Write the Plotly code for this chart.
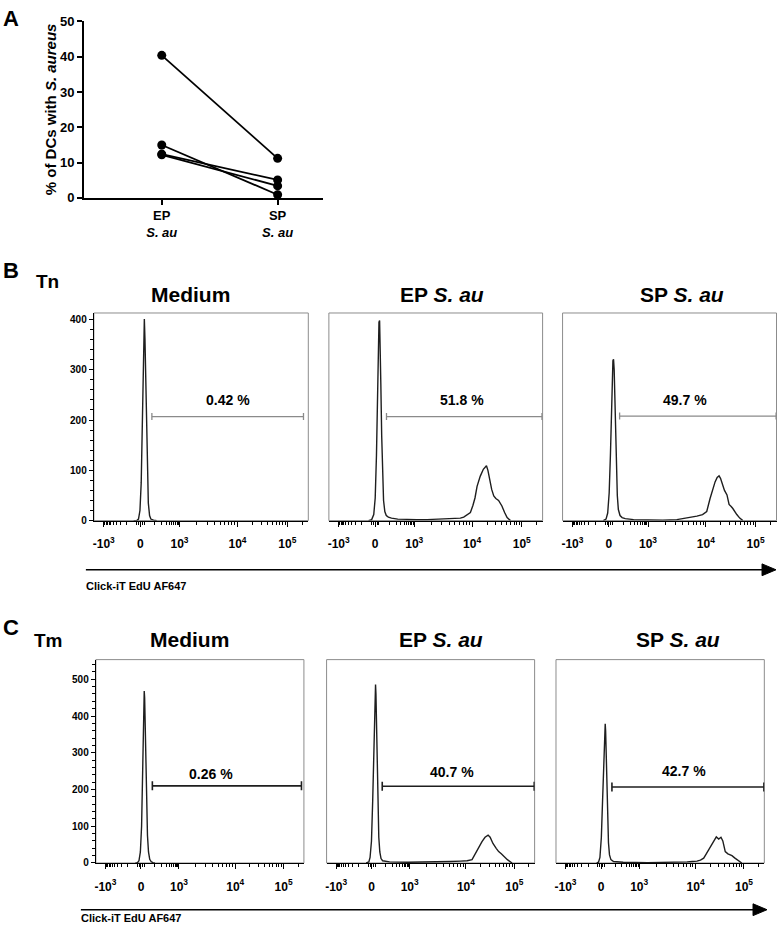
import math
import plotly.graph_objects as go

W, H = 777, 931
FONT = "Liberation Sans, Arial, Helvetica, sans-serif"

# ---- panel A: % of DCs with S. aureus (paired samples)
groups = ["EP", "SP"]
group_labels = ["EP<br><i>S. au</i>", "SP<br><i>S. au</i>"]
ep_pct = [40.4, 15.0, 12.4, 12.2]
sp_pct = [11.2, 0.9, 5.1, 3.4]

# ---- histograms, x in display channels (0-1024), y = count
tn_med_x = [190, 205, 213, 220, 226, 231, 235, 238, 241, 244, 247, 251, 255, 260, 266, 272, 285, 300]
tn_med_y = [0, 0, 3, 20, 75, 170, 270, 350, 401, 360, 290, 180, 95, 35, 10, 3, 1, 0]

tn_ep_x = [190, 205, 215, 222, 228, 233, 237, 240, 243, 246, 249, 253, 257, 262, 268, 275, 285, 300, 330,
           380, 420, 470, 520, 566, 600, 630, 646, 665, 678, 690, 700, 710, 725, 740, 750, 755, 762, 770,
           780, 790, 800, 813, 829, 842, 854, 870]
tn_ep_y = [0, 2, 12, 45, 130, 250, 350, 395, 398, 350, 270, 170, 90, 40, 18, 10, 7, 5, 3,
           2, 2, 2, 3, 3, 4, 5, 7, 12, 16, 30, 45, 68, 88, 102, 108, 109, 100, 80,
           62, 49, 44, 40, 29, 16, 6, 0]

tn_sp_x = [195, 208, 216, 223, 229, 234, 238, 241, 244, 247, 250, 254, 258, 262, 267, 275, 285, 300, 340,
           400, 480, 547, 579, 610, 643, 670, 690, 706, 718, 730, 740, 749, 756, 765, 775, 787, 797, 807,
           815, 834, 848, 863]
tn_sp_y = [0, 3, 15, 55, 130, 210, 290, 318, 321, 300, 250, 170, 100, 50, 22, 10, 6, 4, 2,
           1, 1, 2, 4, 6, 9, 12, 18, 44, 62, 77, 86, 89, 84, 72, 60, 51, 32, 28,
           24, 12, 5, 0]

tm_med_x = [195, 205, 212, 219, 225, 230, 234, 236, 238, 240, 243, 246, 250, 254, 259, 265, 272, 280, 290]
tm_med_y = [0, 1, 6, 30, 100, 220, 350, 430, 468, 450, 370, 260, 150, 75, 30, 10, 4, 1, 0]

tm_ep_x = [195, 208, 214, 221, 227, 232, 236, 239, 241, 243, 246, 249, 253, 257, 262, 268, 276, 290, 310,
           400, 500, 610, 660, 692, 716, 741, 765, 780, 795, 805, 819, 835, 847, 860, 872, 890, 913]
tm_ep_y = [0, 3, 15, 60, 170, 320, 440, 480, 486, 460, 370, 250, 140, 70, 30, 12, 6, 4, 3,
           2, 2, 4, 5, 6, 9, 36, 58, 70, 76, 70, 53, 40, 31, 25, 18, 9, 0]

tm_sp_x = [200, 209, 216, 223, 229, 234, 238, 240, 242, 244, 247, 250, 254, 258, 263, 270, 283, 300, 330,
           450, 560, 620, 645, 670, 693, 710, 726, 738, 750, 765, 778, 788, 800, 811, 820, 832, 845, 865,
           878, 890, 913]
tm_sp_y = [0, 2, 15, 70, 170, 280, 350, 372, 379, 360, 290, 200, 110, 55, 22, 9, 4, 3, 2,
           1, 1, 2, 3, 4, 5, 8, 13, 24, 36, 52, 64, 71, 65, 70, 60, 31, 25, 20,
           14, 9, 0]

hist_x = [tn_med_x, tn_ep_x, tn_sp_x, tm_med_x, tm_ep_x, tm_sp_x]
hist_y = [tn_med_y, tn_ep_y, tn_sp_y, tm_med_y, tm_ep_y, tm_sp_y]

# gates
gate_labels = ["0.42 %", "51.8 %", "49.7 %", "0.26 %", "40.7 %", "42.7 %"]
gate_x0 = [277, 276, 273, 278, 274, 275]
gate_x1 = [1001, 1021, 1022, 1012, 1022, 1022]
gate_y = [207, 207, 208, 210, 209, 207]
label_x = [639, 636, 584, 569, 615, 630]
label_y = [239, 239, 239, 241, 248, 250]

col_titles = ["Medium", "EP <i>S. au</i>", "SP <i>S. au</i>"]
x_tick_text = ["-10<sup>3</sup>", "0", "10<sup>3</sup>", "10<sup>4</sup>", "10<sup>5</sup>"]
x_tick_vals = [-1000, 0, 1000, 10000, 100000]
x_minor_vals = ([-v for v in range(100, 1000, 100)] + [-20, -10, 10, 20] + list(range(100, 1000, 100))
                + list(range(2000, 10000, 1000)) + list(range(20000, 100000, 10000)) + [200000])


def chan(v):
    # biexponential-like display scale used by the cytometry axes
    if v >= 1000:
        d = math.log10(v)
        return 409 + 277 * (d - 3) if d < 4 else 686 + 238 * (d - 4)
    s = math.asinh(abs(v) / 60) / math.asinh(1000 / 60)
    return 222 + 187 * s if v >= 0 else 222 - 175 * s


def px(x):
    return x / W


def py(y):
    return 1 - y / H


fig = go.Figure()

# panel A
for a, b in zip(ep_pct, sp_pct):
    fig.add_trace(go.Scatter(x=groups, y=[a, b], mode="lines+markers", xaxis="x", yaxis="y",
                             line=dict(color="black", width=1.8), marker=dict(color="black", size=9),
                             cliponaxis=False, showlegend=False, hoverinfo="skip"))

layout = dict(
    width=W, height=H, margin=dict(l=0, r=0, t=0, b=0),
    paper_bgcolor="white", plot_bgcolor="rgba(0,0,0,0)",
    font=dict(family=FONT, color="black"),
    showlegend=False,
    xaxis=dict(domain=[px(83), px(322)], anchor="y", type="category", categoryarray=groups,
               range=[-0.672, 1.388], showline=True, linecolor="black", linewidth=1.5,
               ticks="outside", ticklen=5, tickwidth=1.5, tickcolor="black",
               tickvals=groups, ticktext=group_labels, tickfont=dict(size=13, weight="bold"),
               showgrid=False, zeroline=False),
    yaxis=dict(domain=[py(194), py(14.7)], anchor="x", range=[0, 50], showline=True,
               linecolor="black", linewidth=1.5, ticks="outside", ticklen=5, tickwidth=1.5,
               tickcolor="black", tickvals=[0, 10, 20, 30, 40, 50], tickfont=dict(size=13, weight="bold"),
               showgrid=False, zeroline=False),
)

x_domains = [(93, 307.7), (328.3, 542.3), (562.3, 776.5), (95, 303.3), (326, 534.3), (555.7, 764.3)]
y_domains = [(311, 522)] * 3 + [(663.3, 870)] * 3
y_ranges = [413] * 3 + [553.6] * 3

shapes = []
annotations = []

for i in range(6):
    n = i + 2
    m = i + 8  # overlay axis carrying the minor ticks
    xa, ya = f"x{n}", f"y{n}"
    fig.add_trace(go.Scatter(x=hist_x[i], y=hist_y[i], mode="lines", xaxis=xa, yaxis=ya,
                             line=dict(color="#1e1e1e", width=1.4), showlegend=False, hoverinfo="skip"))
    fig.add_trace(go.Scatter(x=[0], y=[0], mode="markers", xaxis=f"x{m}", yaxis=ya,
                             marker=dict(opacity=0), showlegend=False, hoverinfo="skip"))
    x0, x1 = x_domains[i]
    y0, y1 = y_domains[i]
    layout[f"xaxis{n}"] = dict(
        domain=[px(x0), px(x1)], anchor=ya, range=[0, 1024], showline=True, linecolor="black",
        linewidth=1.3, ticks="outside", ticklen=5, tickwidth=1.3, tickcolor="black",
        tickmode="array", tickvals=[chan(v) for v in x_tick_vals], ticktext=x_tick_text,
        tickfont=dict(size=12, weight="bold"), ticklabelstandoff=7,
        showgrid=False, zeroline=False)
    layout[f"xaxis{m}"] = dict(
        domain=[px(x0), px(x1)], anchor=ya, overlaying=xa, range=[0, 1024], showline=False,
        ticks="outside", ticklen=3, tickwidth=1, tickcolor="black", tickmode="array",
        tickvals=[chan(v) for v in x_minor_vals], showticklabels=False, showgrid=False, zeroline=False)
    left = i in (0, 3)
    top = 400 if i < 3 else 500
    layout[f"yaxis{n}"] = dict(
        domain=[py(y1), py(y0)], anchor=xa, range=[0, y_ranges[i]],
        showline=left, linecolor="black", linewidth=1.3,
        ticks="outside" if left else "", ticklen=4, tickwidth=1.2, tickcolor="black",
        tickvals=list(range(0, top + 1, 100)), showticklabels=left,
        tickfont=dict(size=10, weight="bold"),
        minor=dict(dtick=20, ticks="outside" if left else "", ticklen=2.5, tickwidth=1, tickcolor="black"),
        showgrid=False, zeroline=False)
    # frame
    shapes.append(dict(type="rect", xref=f"{xa} domain", yref=f"{ya} domain", x0=0, x1=1, y0=0, y1=1,
                       line=dict(color="#8c8c8c", width=1), layer="below"))
    # gate
    gcol = "#8a8a8a" if i < 3 else "#1e1e1e"
    gw = 1.3 if i < 3 else 1.6
    cap = 7 if i < 3 else 9
    shapes.append(dict(type="line", xref=xa, yref=ya, x0=gate_x0[i], x1=gate_x1[i],
                       y0=gate_y[i], y1=gate_y[i], line=dict(color=gcol, width=gw)))
    for gx in (gate_x0[i], gate_x1[i]):
        shapes.append(dict(type="line", xref=xa, yref=ya, x0=gx, x1=gx, ysizemode="pixel",
                           yanchor=gate_y[i], y0=-cap / 2, y1=cap / 2, line=dict(color=gcol, width=gw)))
    annotations.append(dict(text=gate_labels[i], xref=xa, yref=ya, x=label_x[i], y=label_y[i],
                            showarrow=False, font=dict(size=14, weight="bold"),
                            xanchor="center", yanchor="middle"))

# panel letters and titles
for txt, x, y, size in [("A", 10, 12, 22), ("B", 10, 268, 22), ("C", 10, 631, 22),
                        ("Tn", 47, 279, 19), ("Tm", 48, 644, 19)]:
    annotations.append(dict(text=txt, xref="paper", yref="paper", x=px(x), y=py(y), showarrow=False,
                            font=dict(size=size, weight="bold"), xanchor="center", yanchor="middle"))

for t, x in zip(col_titles, [190, 442, 682]):
    annotations.append(dict(text=t, xref="paper", yref="paper", x=px(x), y=py(292), showarrow=False,
                            font=dict(size=21, weight="bold"), xanchor="center", yanchor="middle"))
for t, x in zip(col_titles, [189, 441, 678]):
    annotations.append(dict(text=t, xref="paper", yref="paper", x=px(x), y=py(643), showarrow=False,
                            font=dict(size=21, weight="bold"), xanchor="center", yanchor="middle"))

annotations.append(dict(text="% of DCs with <i>S. aureus</i>", xref="paper", yref="paper",
                        x=px(49), y=py(104), textangle=-90, showarrow=False,
                        font=dict(size=15, weight="bold"), xanchor="center", yanchor="middle"))

# axis arrows
for yline, xs, xe, ylab in [(572, 85, 776, 588), (917.5, 80, 767, 926)]:
    shapes.append(dict(type="line", xref="paper", yref="paper", x0=px(xs), x1=px(xe - 13),
                       y0=py(yline), y1=py(yline), line=dict(color="black", width=1.6)))
    shapes.append(dict(type="path", xref="paper", yref="paper",
                       path=f"M {px(xe - 14)},{py(yline - 6)} L {px(xe)},{py(yline)} L {px(xe - 14)},{py(yline + 6)} Z",
                       fillcolor="black", line=dict(color="black", width=1)))
    annotations.append(dict(text="Click-iT EdU AF647", xref="paper", yref="paper", x=px(xs - 2),
                            y=py(ylab), showarrow=False, font=dict(size=11, weight="bold"),
                            xanchor="left", yanchor="middle"))

layout["shapes"] = shapes
layout["annotations"] = annotations
fig.update_layout(**layout)

# drop the default 8px body margin so the figure sits at the page origin
fig.write_html("out.html", config={"displayModeBar": False},
               post_script="document.body.style.margin='0';")
